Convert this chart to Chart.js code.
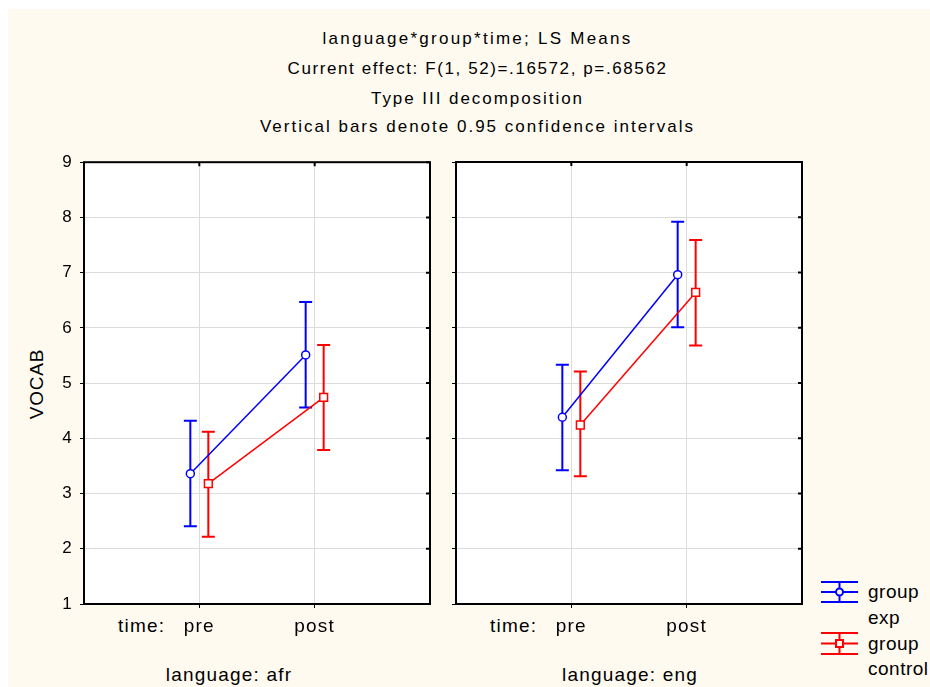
<!DOCTYPE html>
<html>
<head>
<meta charset="utf-8">
<script src="https://cdn.jsdelivr.net/npm/chart.js@4.4.1/dist/chart.umd.min.js"></script>
<style>
  body { margin: 0; width: 930px; height: 687px; overflow: hidden; position: relative; background: #fff;
         font-family: "Liberation Sans", Arial, sans-serif; color: #000; }
  #frame { position: absolute; left: 8px; top: 9px; width: 922px; height: 678px; background: #fffaf0; }
  .t { position: absolute; white-space: nowrap; line-height: 20px; }
  .ttl { left: 0; width: 955px; text-align: center; font-size: 17px; }
  .lab { font-size: 19px; letter-spacing: 1.2px; }
  .leg { font-size: 19px; letter-spacing: 0.5px; left: 868px; }
  canvas, svg { position: absolute; }
</style>
</head>
<body>
<div id="frame"></div>

<div class="t ttl" style="top:29px; letter-spacing:2.25px">language*group*time; LS Means</div>
<div class="t ttl" style="top:59px; letter-spacing:1.6px">Current effect: F(1, 52)=.16572, p=.68562</div>
<div class="t ttl" style="top:89px; letter-spacing:1.95px">Type III decomposition</div>
<div class="t ttl" style="top:117px; letter-spacing:2px">Vertical bars denote 0.95 confidence intervals</div>

<div class="t lab" style="left:37px; top:384px; transform:translate(-50%,-50%) rotate(-90deg); letter-spacing:0.8px">VOCAB</div>

<div class="t lab" style="left:118px; top:616px">time:</div>
<div class="t lab" style="left:490px; top:616px">time:</div>
<div class="t lab" style="left:229px; top:665px; transform:translateX(-50%)">language: afr</div>
<div class="t lab" style="left:630px; top:665px; transform:translateX(-50%)">language: eng</div>

<canvas id="afr" width="440" height="505" style="left:0; top:145px"></canvas>
<canvas id="eng" width="380" height="500" style="left:440px; top:150px"></canvas>

<svg style="left:821px; top:580px" width="38" height="26">
  <g stroke="#0000ff" stroke-width="2" fill="none">
    <path d="M0 2H37M0 12H37M0 22H37M18.5 2V22"/>
    <circle cx="18.5" cy="12" r="3.5" fill="#fffaf0"/>
  </g>
</svg>
<svg style="left:821px; top:631px" width="38" height="26">
  <g stroke="#ff0000" stroke-width="2" fill="none">
    <path d="M0 2H37M0 12.5H37M0 23H37M18.5 2V23"/>
    <rect x="15" y="9" width="7" height="7" fill="#fffaf0"/>
  </g>
</svg>
<div class="t leg" style="top:582px">group</div>
<div class="t leg" style="top:608px">exp</div>
<div class="t leg" style="top:634px">group</div>
<div class="t leg" style="top:659px">control</div>

<script>
const times = ['pre', 'post'];

// LS means and 0.95 CI limits
const afrExp = [3.36, 5.51];
const afrExpLow = [2.41, 4.56];
const afrExpHigh = [4.32, 6.47];
const afrCtl = [3.18, 4.74];
const afrCtlLow = [2.22, 3.79];
const afrCtlHigh = [4.12, 5.69];

const engExp = [4.38, 6.96];
const engExpLow = [3.42, 6.01];
const engExpHigh = [5.33, 7.92];
const engCtl = [4.24, 6.64];
const engCtlLow = [3.31, 5.68];
const engCtlHigh = [5.21, 7.59];

const yTicks = [1, 2, 3, 4, 5, 6, 7, 8, 9];

const DODGE = 0.078;  // small horizontal shift so the two groups don't overlap
const FONT = '"Liberation Sans", Arial, sans-serif';

// white plot area, error bars, black frame
const panelPlugin = {
  id: 'panel',
  beforeDraw(chart) {
    const { ctx, chartArea: a } = chart;
    ctx.save();
    ctx.fillStyle = '#fff';
    ctx.fillRect(a.left, a.top, a.width, a.height);
    ctx.restore();
    ctx.letterSpacing = '1.2px';
  },
  beforeDatasetsDraw(chart) {
    const ctx = chart.ctx;
    const y = chart.scales.y;
    chart.data.datasets.forEach((ds, di) => {
      const meta = chart.getDatasetMeta(di);
      ds.ciLow.forEach((lo, i) => {
        const px = meta.data[i].x;
        const top = y.getPixelForValue(ds.ciHigh[i]);
        const bot = y.getPixelForValue(lo);
        ctx.save();
        ctx.strokeStyle = ds.borderColor;
        ctx.lineWidth = 2;
        ctx.beginPath();
        ctx.moveTo(px, top); ctx.lineTo(px, bot);
        ctx.moveTo(px - 6.5, top); ctx.lineTo(px + 6.5, top);
        ctx.moveTo(px - 6.5, bot); ctx.lineTo(px + 6.5, bot);
        ctx.stroke();
        ctx.restore();
      });
    });
  },
  afterDraw(chart) {
    const { ctx, chartArea: a, scales } = chart;
    ctx.save();
    ctx.strokeStyle = '#000';
    ctx.lineWidth = 2;
    ctx.strokeRect(a.left, a.top, a.width, a.height);
    ctx.beginPath();
    scales.y.ticks.forEach(t => {
      const py = scales.y.getPixelForValue(t.value);
      ctx.moveTo(a.right - 4, py); ctx.lineTo(a.right, py);
    });
    scales.x.ticks.forEach(t => {
      const px = scales.x.getPixelForValue(t.value);
      ctx.moveTo(px, a.top); ctx.lineTo(px, a.top + 4);
    });
    ctx.stroke();
    ctx.restore();
  }
};

function groupDataset(means, low, high, color, shift, style, radius) {
  return {
    data: means.map((m, i) => ({ x: i + 1 + shift, y: m })),
    ciLow: low,
    ciHigh: high,
    borderColor: color,
    borderWidth: 1.5,
    pointStyle: style,
    pointRadius: radius,
    pointBorderWidth: 1.5,
    pointBorderColor: color,
    pointBackgroundColor: '#fff',
    fill: false,
    tension: 0
  };
}

function createPanel(canvasId, exp, expLow, expHigh, ctl, ctlLow, ctlHigh, showY, yWidth, padRight) {
  const ctx = document.getElementById(canvasId).getContext('2d');
  new Chart(ctx, {
    type: 'line',
    data: {
      datasets: [
        groupDataset(exp, expLow, expHigh, '#0000ff', -DODGE, 'circle', 4),
        groupDataset(ctl, ctlLow, ctlHigh, '#ff0000', DODGE, 'rect', 5.5)
      ]
    },
    options: {
      responsive: false,
      animation: false,
      layout: { padding: { top: 12, right: padRight, left: 0, bottom: 0 } },
      plugins: { legend: { display: false }, tooltip: { enabled: false } },
      scales: {
        x: {
          type: 'linear',
          min: 0,
          max: times.length + 1,
          afterBuildTicks: s => { s.ticks = times.map((_, i) => ({ value: i + 1 })); },
          afterFit: s => { s.height = 46; },
          ticks: {
            autoSkip: false,
            maxRotation: 0,
            padding: 7,
            color: '#000',
            font: { family: FONT, size: 19 },
            callback: v => times[v - 1]
          },
          grid: { color: '#dcdcdc', tickColor: '#000', tickLength: 4 },
          border: { display: false }
        },
        y: {
          min: yTicks[0],
          max: yTicks[yTicks.length - 1],
          afterBuildTicks: s => { s.ticks = yTicks.map(v => ({ value: v })); },
          afterFit: s => { s.width = yWidth; },
          ticks: {
            display: showY,
            padding: 7,
            color: '#000',
            font: { family: FONT, size: 17 }
          },
          grid: { color: '#dcdcdc', tickColor: '#000', tickLength: 4 },
          border: { display: false }
        }
      }
    },
    plugins: [panelPlugin]
  });
}

createPanel('afr', afrExp, afrExpLow, afrExpHigh, afrCtl, afrCtlLow, afrCtlHigh, true, 84, 10);
createPanel('eng', engExp, engExpLow, engExpHigh, engCtl, engCtlLow, engCtlHigh, false, 16, 18);
</script>
</body>
</html>
